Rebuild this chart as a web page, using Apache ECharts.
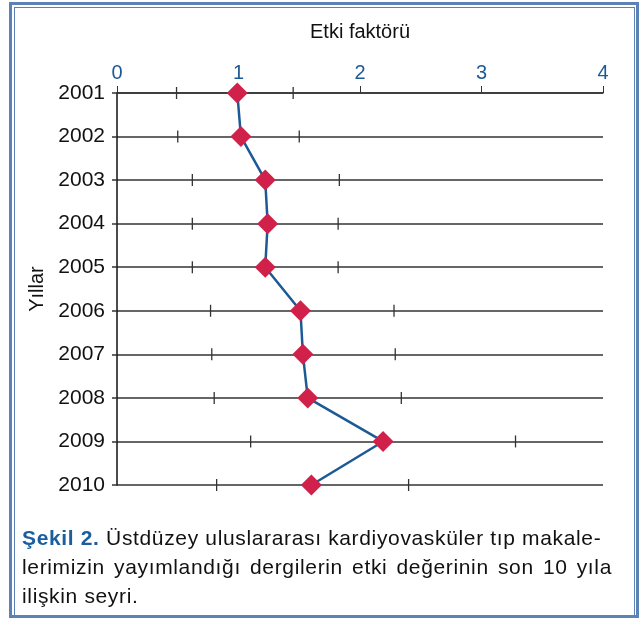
<!DOCTYPE html>
<html>
<head>
<meta charset="utf-8">
<script src="https://cdn.jsdelivr.net/npm/echarts@6/dist/echarts.min.js"></script>
<style>
    html, body { margin: 0; padding: 0; background: #fff; }
    #wrap { position: relative; width: 640px; height: 618px; overflow: hidden; }
    #chart { position: absolute; left: 0; top: 0; width: 640px; height: 618px; }
    #outer { position: absolute; left: 9px; top: 2px; width: 624px; height: 610px; border: 3px solid #5d82b6; }
    #inner { position: absolute; left: 14px; top: 7px; width: 619px; height: 607px; border: 1px solid #5d82b6; }
    #caption {
        position: absolute; left: 22px; top: 523px; width: 590px;
        font-family: "Liberation Sans", Arial, sans-serif; font-size: 21px; line-height: 29px;
        letter-spacing: 0.65px; color: #111; white-space: nowrap;
    }
    #caption .j { text-align: justify; text-align-last: justify; }
    #caption b { color: #1a5ea0; }
</style>
</head>
<body>
<div id="wrap">
    <div id="outer"></div>
    <div id="inner"></div>
    <div id="chart"></div>
    <div id="caption">
        <div><b>Şekil 2.</b> Üstdüzey uluslararası kardiyovasküler tıp makale-</div>
        <div class="j">lerimizin yayımlandığı dergilerin etki değerinin son 10 yıla</div>
        <div>ilişkin seyri.</div>
    </div>
</div>
<script>
(function () {

    var years = ['2001', '2002', '2003', '2004', '2005', '2006', '2007', '2008', '2009', '2010'];
    var impact = [0.99, 1.02, 1.22, 1.24, 1.22, 1.51, 1.53, 1.57, 2.19, 1.60];
    var lowBar = [0.49, 0.50, 0.62, 0.62, 0.62, 0.77, 0.78, 0.80, 1.10, 0.82];
    var highBar = [1.45, 1.50, 1.83, 1.82, 1.82, 2.28, 2.29, 2.34, 3.28, 2.40];

    var font = '"Liberation Sans", Arial, sans-serif';

    var lineData = years.map((y, i) => [impact[i], i]);
    var barData = years.map((y, i) => [i, lowBar[i], highBar[i]]);

    var option = {
        animation: false,
        grid: {
            left: 117,
            right: 37,
            top: 93,
            bottom: 133
        },
        xAxis: {
            type: 'value',
            position: 'top',
            min: 0,
            max: 4,
            interval: 1,
            name: 'Etki faktörü',
            nameLocation: 'middle',
            nameGap: 51,
            nameTextStyle: { color: '#111', fontSize: 20, fontFamily: font },
            axisLine: { show: true, lineStyle: { color: '#333', width: 1.5 } },
            axisTick: { show: true, length: 7, lineStyle: { color: '#333' } },
            axisLabel: { color: '#1b5a96', fontSize: 20, fontFamily: font, margin: 10 },
            splitLine: { show: false }
        },
        yAxis: {
            type: 'category',
            data: years,
            inverse: true,
            boundaryGap: false,
            name: 'Yıllar',
            nameLocation: 'middle',
            nameRotate: 90,
            nameGap: 70,
            nameTextStyle: { color: '#111', fontSize: 20, fontFamily: font },
            axisLine: { show: true, lineStyle: { color: '#111', width: 1.5 } },
            axisTick: { show: true, length: 5, lineStyle: { color: '#333', width: 1.5 } },
            axisLabel: { color: '#111', fontSize: 21, fontFamily: font, margin: 12 },
            splitLine: { show: true, lineStyle: { color: '#333', width: 1.5 } }
        },
        series: [
            {
                type: 'custom',
                data: barData,
                encode: { x: [1, 2], y: 0 },
                renderItem: function (params, api) {
                    var idx = api.value(0);
                    var lo = api.coord([api.value(1), idx]);
                    var hi = api.coord([api.value(2), idx]);
                    var style = { stroke: '#333', lineWidth: 1.3 };
                    return {
                        type: 'group',
                        children: [
                            { type: 'line', shape: { x1: lo[0], y1: lo[1] - 6, x2: lo[0], y2: lo[1] + 6 }, style: style },
                            { type: 'line', shape: { x1: hi[0], y1: hi[1] - 6, x2: hi[0], y2: hi[1] + 6 }, style: style }
                        ]
                    };
                },
                z: 3
            },
            {
                type: 'line',
                data: lineData,
                symbol: 'diamond',
                symbolSize: [21, 21],
                lineStyle: { color: '#1c5a96', width: 2.5 },
                itemStyle: { color: '#cf2149' },
                z: 5
            }
        ]
    };

    var myChart = echarts.init(document.getElementById('chart'));
    myChart.setOption(option);

})();
</script>
</body>
</html>
